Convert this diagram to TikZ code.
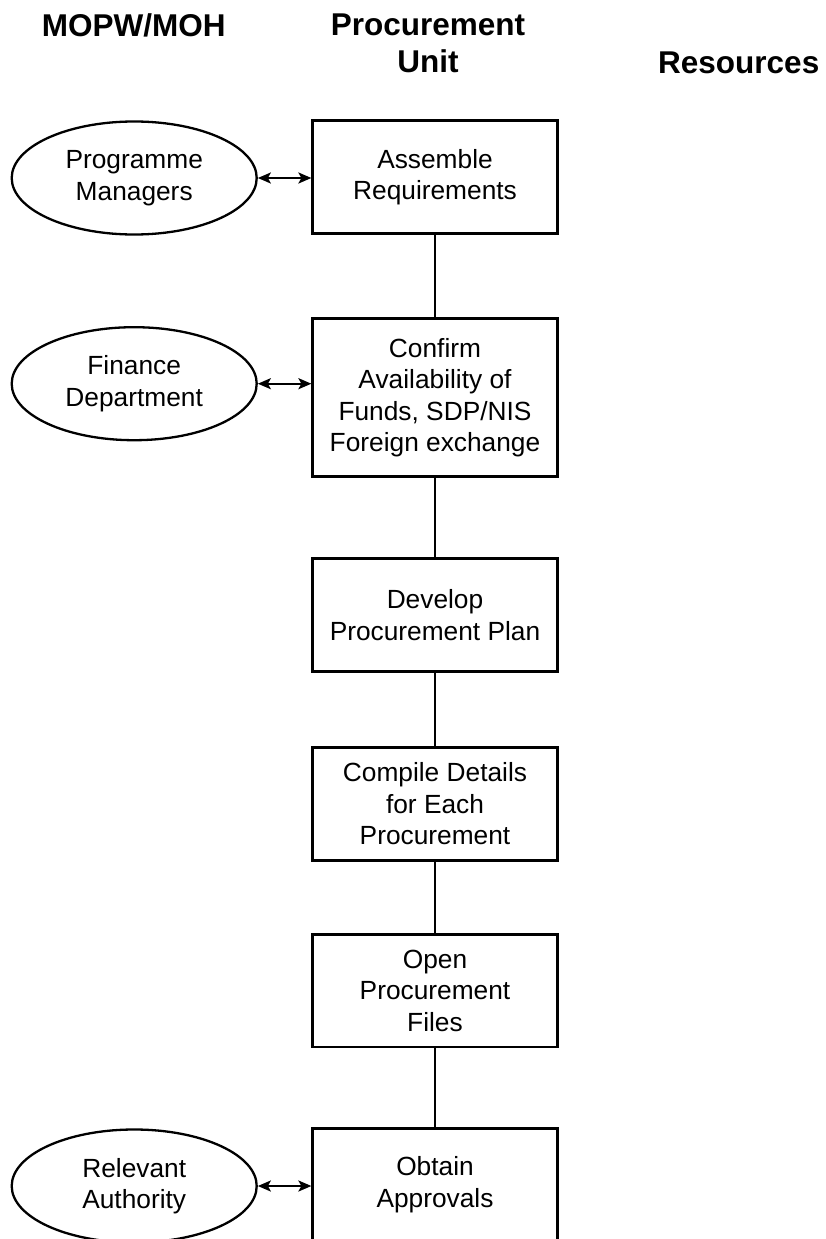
\documentclass[tikz,border=0pt]{standalone}
\usepackage{fontspec}
\setmainfont{Liberation Sans}
\usetikzlibrary{shapes.geometric,arrows.meta}
\begin{document}
\begin{tikzpicture}[x=1pt,y=-1pt,
  bodytext/.style={font=\fontsize{26.3}{31.5}\selectfont, align=center, inner sep=0pt},
  stepbox/.style={bodytext, draw, line width=2.6pt, minimum width=244.6pt, minimum height=112.6pt},
  party/.style={bodytext, ellipse, draw, line width=2.3pt, minimum width=245pt, minimum height=113pt},
  head/.style={font=\fontsize{31.5}{36.6}\selectfont\bfseries, align=center, inner sep=0pt},
  link/.style={line width=2.6pt},
  tip/.style={Stealth[length=13pt,width=11pt,inset=3pt]},
  twoway/.style={line width=2.2pt, {Stealth[length=13pt,width=11pt,inset=3pt]}-{Stealth[length=13pt,width=11pt,inset=3pt]}}]
\useasboundingbox (0,0) rectangle (825,1239);
\clip (0,0) rectangle (825,1239);

% column headings
\node[head, anchor=base west] (hmin) at (41.7,36.7) {MOPW/MOH};
\node[head, anchor=north] (hpu) at (428,14) {Procurement\\Unit};
\node[head, anchor=base west] (hres) at (658,73.3) {Resources};

% procurement unit steps
\node[stepbox] (ar) at (435,177) {Assemble\\Requirements};
\node[stepbox, minimum height=158.4pt] (cf) at (435,397.5) {Confirm\\Availability of\\Funds, SDP/NIS\\Foreign exchange};
\node[stepbox] (dp) at (435,615) {Develop\\Procurement Plan};
\node[stepbox] (cd) at (435,804) {Compile Details\\for Each\\Procurement};
\node[stepbox] (op) at (435,990.5) {Open\\Procurement\\Files};
\node[stepbox] (oa) at (435,1184.5) {Obtain\\Approvals};

% ministry parties
\node[party] (pm) at (134.2,178) {Programme\\Managers};
\node[party] (fd) at (134.2,383.7) {Finance\\Department};
\node[party] (ra) at (134.2,1186) {Relevant\\Authority};

% flow between steps
\draw[link] (ar.south) -- (cf.north);
\draw[link] (cf.south) -- (dp.north);
\draw[link] (dp.south) -- (cd.north);
\draw[link] (cd.south) -- (op.north);
\draw[link] (op.south) -- (oa.north);

% exchanges with the ministry
\draw[twoway] (pm.east) -- (pm.east -| ar.west);
\draw[twoway] (fd.east) -- (fd.east -| cf.west);
\draw[twoway] (ra.east) -- (ra.east -| oa.west);
\end{tikzpicture}
\end{document}
